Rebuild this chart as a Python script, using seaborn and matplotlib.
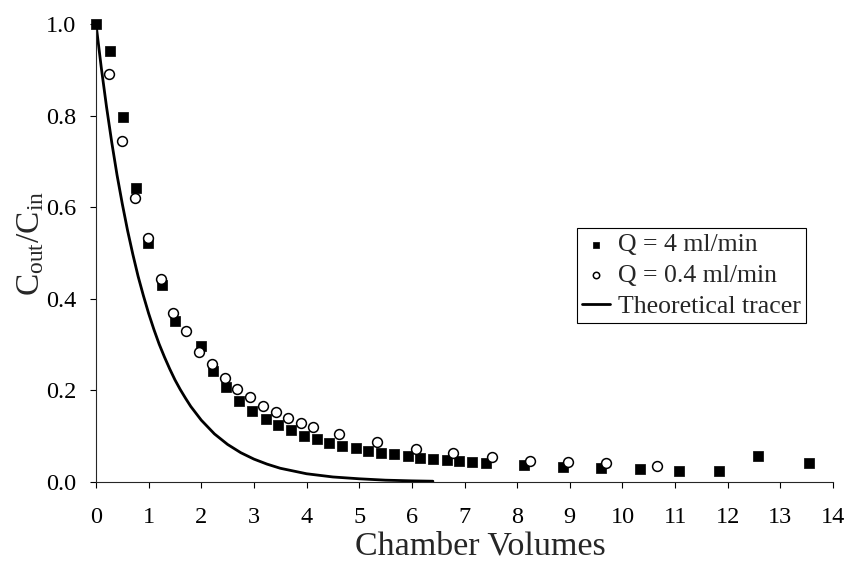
import matplotlib
matplotlib.use("Agg")
import matplotlib.pyplot as plt
import seaborn as sns
import pandas as pd

# ---------------- Data ----------------
q4_x = [0.0, 0.27, 0.51, 0.76, 0.99, 1.25, 1.50, 1.99, 2.23, 2.47, 2.72, 2.96, 3.22,
        3.45, 3.70, 3.95, 4.19, 4.43, 4.67, 4.93, 5.17, 5.42, 5.67, 5.92, 6.16, 6.41,
        6.66, 6.90, 7.15, 7.40, 8.13, 8.87, 9.59, 10.34, 11.08, 11.83, 12.58, 13.54]
q4_y = [1.0, 0.940, 0.798, 0.641, 0.521, 0.430, 0.352, 0.297, 0.243, 0.207, 0.177, 0.155,
        0.138, 0.124, 0.113, 0.100, 0.093, 0.085, 0.079, 0.074, 0.068, 0.063, 0.061,
        0.057, 0.053, 0.050, 0.048, 0.045, 0.044, 0.041, 0.037, 0.033, 0.030, 0.028,
        0.025, 0.023, 0.057, 0.041]

q04_x = [0.25, 0.49, 0.74, 0.98, 1.23, 1.47, 1.71, 1.95, 2.20, 2.45, 2.68, 2.93, 3.17,
         3.41, 3.65, 3.89, 4.13, 4.62, 5.34, 6.07, 6.79, 7.52, 8.25, 8.97, 9.69, 10.66]
q04_y = [0.891, 0.745, 0.619, 0.532, 0.443, 0.370, 0.330, 0.284, 0.258, 0.226, 0.202,
         0.186, 0.166, 0.153, 0.139, 0.129, 0.121, 0.105, 0.087, 0.073, 0.063, 0.055,
         0.046, 0.044, 0.041, 0.036]

theory_x = [0.0, 0.1, 0.2, 0.3, 0.4, 0.5, 0.6, 0.7, 0.8, 0.9, 1.0, 1.1, 1.2, 1.3, 1.4,
            1.5, 1.6, 1.7, 1.8, 1.9, 2.0, 2.25, 2.5, 2.75, 3.0, 3.25, 3.5, 3.75, 4.0,
            4.5, 5.0, 5.5, 6.0, 6.4]
theory_y = [1.000, 0.905, 0.819, 0.741, 0.670, 0.607, 0.549, 0.497, 0.449, 0.407, 0.368,
            0.333, 0.301, 0.273, 0.247, 0.223, 0.202, 0.183, 0.165, 0.150, 0.135, 0.105,
            0.082, 0.064, 0.050, 0.039, 0.030, 0.024, 0.018, 0.011, 0.007, 0.004,
            0.0025, 0.0017]

df_q4 = pd.DataFrame({"x": q4_x, "y": q4_y})
df_q04 = pd.DataFrame({"x": q04_x, "y": q04_y})
df_th = pd.DataFrame({"x": theory_x, "y": theory_y})

# ---------------- Style ----------------
sns.set_style("ticks")
plt.rcParams["font.family"] = ["Liberation Serif", "DejaVu Serif"]
plt.rcParams["mathtext.fontset"] = "custom"
plt.rcParams["mathtext.rm"] = "Liberation Serif"
plt.rcParams["mathtext.it"] = "Liberation Serif"

fig = plt.figure(figsize=(8.46, 5.66), dpi=100)
ax = fig.add_axes([96 / 846, 1 - 482 / 566, (833 - 96) / 846, (482 - 24) / 566])

sns.lineplot(data=df_th, x="x", y="y", ax=ax, color="black", linewidth=2.0,
             sort=False, estimator=None, label="Theoretical tracer")
sns.scatterplot(data=df_q4, x="x", y="y", ax=ax, marker="s", color="black",
                edgecolor="black", s=60, linewidth=0.5, label="Q = 4 ml/min",
                clip_on=False, zorder=3)
sns.scatterplot(data=df_q04, x="x", y="y", ax=ax, marker="o", facecolor="white",
                edgecolor="black", s=50, linewidth=1.1, label="Q = 0.4 ml/min",
                clip_on=False, zorder=4)

ax.set_xlim(0, 14)
ax.set_ylim(0, 1.0)
ax.set_xticks(range(0, 15))
ax.set_yticks([0.0, 0.2, 0.4, 0.6, 0.8, 1.0])
ax.set_yticklabels(["0.0", "0.2", "0.4", "0.6", "0.8", "1.0"])
ax.tick_params(axis="both", labelsize=17.5, length=4, width=0.8, colors="black")
ax.tick_params(axis="x", pad=14)
ax.tick_params(axis="y", pad=10)
ax.set_xlabel("Chamber Volumes", fontsize=24.5)
ax.xaxis.set_label_coords(0.521, -0.108)
ax.set_ylabel(r"$\mathregular{C_{out}/C_{in}}$", fontsize=24)
ax.yaxis.set_label_coords(-0.068, 0.52)
sns.despine(ax=ax)
for sp in ("left", "bottom"):
    ax.spines[sp].set_linewidth(0.8)

handles, labels = ax.get_legend_handles_labels()
order = [1, 2, 0]
leg = ax.legend([handles[i] for i in order], [labels[i] for i in order],
                loc="lower left", bbox_to_anchor=(577 / 846, 1 - 323 / 566),
                bbox_transform=fig.transFigure, borderaxespad=0, fontsize=18.5,
                frameon=True, fancybox=False, edgecolor="black", framealpha=1,
                handlelength=1.1, handletextpad=0.3, borderpad=0.2,
                labelspacing=0.3, markerscale=0.65)
leg.get_frame().set_linewidth(0.8)

fig.savefig("out.png", dpi=100)
